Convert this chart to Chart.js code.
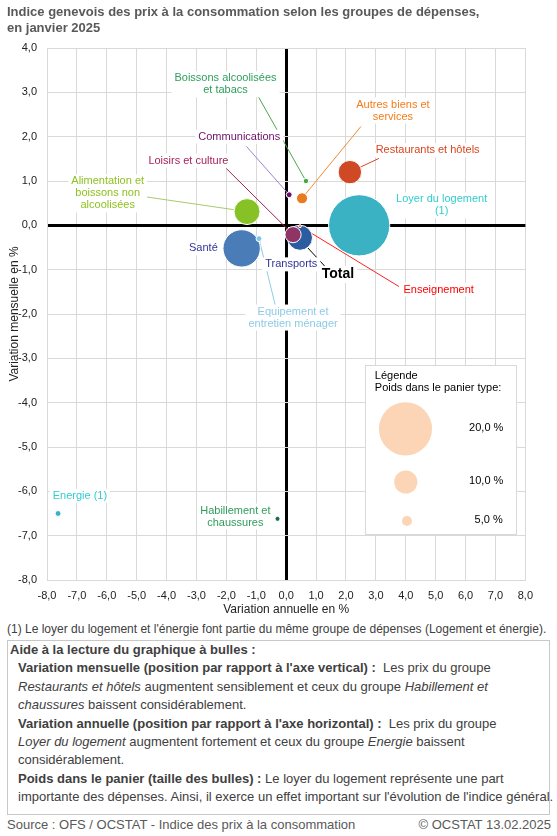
<!DOCTYPE html>
<html>
<head>
<meta charset="utf-8">
<script src="https://cdn.jsdelivr.net/npm/chart.js@4.4.1/dist/chart.umd.min.js"></script>
<style>
  body { margin: 0; width: 557px; height: 836px; position: relative; overflow: hidden; background: #fff;
         font-family: "Liberation Sans", Arial, sans-serif; }
  #title { position: absolute; left: 7px; top: 4px; font-size: 13px; font-weight: bold; color: #595959; line-height: 16px; }
  #wrap { position: absolute; left: 0; top: 0; width: 557px; height: 620px; }
  #note { position: absolute; left: 7px; top: 622px; font-size: 12px; color: #404040; white-space: nowrap; }
  #box { position: absolute; left: 7px; top: 640px; width: 543px; height: 175px; border: 1px solid #c8c8c8;
         box-sizing: border-box; font-size: 13px; color: #404040; line-height: 18.4px; white-space: nowrap; }
  #box .h { font-weight: bold; padding-left: 2px; }
  #box .p { padding-left: 10px; }
  #src { position: absolute; left: 7px; top: 817px; font-size: 13px; color: #595959; }
  #copy { position: absolute; right: 6px; top: 817px; font-size: 13px; color: #595959; }
</style>
</head>
<body>
<div id="wrap"><canvas id="myChart" width="557" height="620"></canvas></div>
<div id="title">Indice genevois des prix à la consommation selon les groupes de dépenses,<br>en janvier 2025</div>
<div id="note">(1) Le loyer du logement et l'énergie font partie du même groupe de dépenses (Logement et énergie).</div>
<div id="box">
  <div class="h">Aide à la lecture du graphique à bulles :</div>
  <div class="p"><b>Variation mensuelle (position par rapport à l'axe vertical) :</b>&nbsp; Les prix du groupe<br><i>Restaurants et hôtels</i> augmentent sensiblement et ceux du groupe <i>Habillement et<br>chaussures</i> baissent considérablement.</div>
  <div class="p"><b>Variation annuelle (position par rapport à l'axe horizontal) :</b>&nbsp; Les prix du groupe<br><i>Loyer du logement</i> augmentent fortement et ceux du groupe <i>Energie</i> baissent<br>considérablement.</div>
  <div class="p"><b>Poids dans le panier (taille des bulles) :</b> Le loyer du logement représente une part<br>importante des dépenses. Ainsi, il exerce un effet important sur l'évolution de l'indice général.</div>
</div>
<div id="src">Source : OFS / OCSTAT - Indice des prix à la consommation</div>
<div id="copy">© OCSTAT 13.02.2025</div>

<script>
// groupes de dépenses
const groups = ['Loyer du logement (1)', 'Santé', 'Alimentation et boissons non alcoolisées', 'Transports',
  'Restaurants et hôtels', 'Loisirs et culture', 'Autres biens et services', 'Equipement et entretien ménager',
  'Communications', 'Boissons alcoolisées et tabacs', 'Energie (1)', 'Habillement et chaussures', 'Enseignement'];
const annualChange  = [2.44, -1.49, -1.31, 0.46, 2.13, 0.23, 0.53, -0.91, 0.10, 0.66, -7.63, -0.29, 0.46];
const monthlyChange = [0.00, -0.52, 0.31, -0.28, 1.20, -0.21, 0.61, -0.30, 0.69, 1.00, -6.50, -6.62, -0.02];
const basketWeight  = [22.5, 14.9, 11.0, 10.7, 10.1, 7.4, 5.4, 3.2, 3.2, 3.0, 3.2, 2.8, 1.8];

const totalAnnual = [0.30];
const totalMonthly = [-0.20];

const legendWeights = [20, 10, 5];
const legendLabels = ['20,0 %', '10,0 %', '5,0 %'];

const xTickLabels = ['-8,0', '-7,0', '-6,0', '-5,0', '-4,0', '-3,0', '-2,0', '-1,0', '0,0', '1,0', '2,0', '3,0', '4,0', '5,0', '6,0', '7,0', '8,0'];
const yTickLabels = ['-8,0', '-7,0', '-6,0', '-5,0', '-4,0', '-3,0', '-2,0', '-1,0', '0,0', '1,0', '2,0', '3,0', '4,0'];

// couleurs
const bubbleColors = ['#3bb2c3', '#4a7cb8', '#86c226', '#2b5c9f', '#cf4a24', '#8f3565', '#e87b20', '#7fc6ec',
  '#6a106c', '#3eab3e', '#3bb2c3', '#1d6b4b', '#ff4a4a'];
const labelColors = ['#33cccc', '#333399', '#8dc21f', '#333399', '#d9461f', '#a3235a', '#f47c1a', '#8ecae6',
  '#6b0f6b', '#2e9e5b', '#33cccc', '#2e9e5b', '#ff0000'];
const leaderColors = [null, null, '#a9c96f', null, '#d9461f', '#a3234f', '#f08a30', '#8ecbe6',
  '#9b85c9', '#4aa84a', null, null, '#ff2020'];

// étiquettes (texte, position du texte, bout du trait)
const labelText = [['Loyer du logement', '(1)'], ['Santé'], ['Alimentation et', 'boissons non', 'alcoolisées'],
  ['Transports'], ['Restaurants et hôtels'], ['Loisirs et culture'], ['Autres biens et', 'services'],
  ['Equipement et', 'entretien ménager'], ['Communications'], ['Boissons alcoolisées', 'et tabacs'],
  ['Energie (1)'], ['Habillement et', 'chaussures'], ['Enseignement']];
const labelPos = [[5.2, 0.45], [-2.77, -0.52], [-5.97, 0.72], [0.17, -0.88], [4.73, 1.69], [-3.27, 1.46],
  [3.57, 2.59], [0.23, -2.08], [-1.57, 2.0], [-2.03, 3.18], [-6.9, -6.1], [-1.7, -6.57], [5.1, -1.45]];
const leaderEnd = [null, null, [-4.77, 0.65], null, [3.1, 1.51], [-2.0, 1.28], [2.5, 2.23], [-0.33, -1.9],
  [-1.33, 1.78], [-1.03, 3.02], null, null, [3.77, -1.38]];
const totalLabelPos = [1.73, -1.11];
const totalLeaderEnd = [1.37, -0.98];

// légende des bulles (placée dans le graphique)
const legendBox = [2.63, -3.16, 7.69, -6.98];
const legendAnnual = [3.99, 4.0, 4.04];
const legendMonthly = [-4.59, -5.79, -6.67];
const legendTextX = [6.69, 6.69, 6.77];

const FONT = '"Liberation Sans", Arial, sans-serif';

// taille de bulle selon le poids
const radiusFor = w => 0.73 * Math.pow(w, 1.2);

const mainData = groups.map((g, i) => ({ x: annualChange[i], y: monthlyChange[i], r: radiusFor(basketWeight[i]) }));
const legendData = legendWeights.map((w, i) => ({ x: legendAnnual[i], y: legendMonthly[i], r: radiusFor(w) }));
const totalData = totalAnnual.map((v, i) => ({ x: v, y: totalMonthly[i] }));

const drawLabel = (ctx, lines, px, py, color, font, lh) => {
  ctx.font = font;
  let w = 0;
  lines.forEach(l => { w = Math.max(w, ctx.measureText(l).width); });
  const h = lines.length * lh;
  ctx.fillStyle = '#fff';
  ctx.fillRect(px - w / 2 - 3, py - h / 2 - 1, w + 6, h + 2);
  ctx.fillStyle = color;
  ctx.textAlign = 'center';
  ctx.textBaseline = 'middle';
  lines.forEach((l, k) => ctx.fillText(l, px, py - h / 2 + lh / 2 + k * lh));
};

const annotate = {
  id: 'annotate',
  beforeDatasetsDraw(chart) {
    const { ctx, scales: { x, y } } = chart;
    ctx.save();

    // cadre de la légende
    const bx0 = x.getPixelForValue(legendBox[0]), by0 = y.getPixelForValue(legendBox[1]);
    const bx1 = x.getPixelForValue(legendBox[2]), by1 = y.getPixelForValue(legendBox[3]);
    ctx.fillStyle = '#fff';
    ctx.fillRect(bx0, by0, bx1 - bx0, by1 - by0);
    ctx.strokeStyle = '#d9d9d9';
    ctx.lineWidth = 1;
    ctx.strokeRect(Math.round(bx0) + 0.5, Math.round(by0) + 0.5, Math.round(bx1 - bx0), Math.round(by1 - by0));
    ctx.fillStyle = '#000';
    ctx.font = '11px ' + FONT;
    ctx.textAlign = 'left';
    ctx.textBaseline = 'middle';
    ctx.fillText('Légende', bx0 + 10, by0 + 11);
    ctx.fillText('Poids dans le panier type:', bx0 + 10, by0 + 23);
    legendLabels.forEach((t, i) => {
      ctx.textAlign = 'center';
      ctx.fillText(t, x.getPixelForValue(legendTextX[i]), y.getPixelForValue(legendMonthly[i]) - 1);
    });

    // traits de rappel
    ctx.lineWidth = 1;
    groups.forEach((g, i) => {
      if (!leaderEnd[i]) return;
      ctx.strokeStyle = leaderColors[i];
      ctx.beginPath();
      ctx.moveTo(x.getPixelForValue(annualChange[i]), y.getPixelForValue(monthlyChange[i]));
      ctx.lineTo(x.getPixelForValue(leaderEnd[i][0]), y.getPixelForValue(leaderEnd[i][1]));
      ctx.stroke();
    });
    ctx.strokeStyle = '#000';
    ctx.beginPath();
    ctx.moveTo(x.getPixelForValue(totalAnnual[0]), y.getPixelForValue(totalMonthly[0]));
    ctx.lineTo(x.getPixelForValue(totalLeaderEnd[0]), y.getPixelForValue(totalLeaderEnd[1]));
    ctx.stroke();

    // étiquettes
    groups.forEach((g, i) => {
      drawLabel(ctx, labelText[i], x.getPixelForValue(labelPos[i][0]), y.getPixelForValue(labelPos[i][1]),
        labelColors[i], '11px ' + FONT, 12);
    });
    drawLabel(ctx, ['Total'], x.getPixelForValue(totalLabelPos[0]), y.getPixelForValue(totalLabelPos[1]),
      '#000', 'bold 14px ' + FONT, 15);

    ctx.restore();
  }
};

const ctx = document.getElementById('myChart').getContext('2d');
const myChart = new Chart(ctx, {
  type: 'bubble',
  data: {
    datasets: [
      {
        label: 'Groupes',
        data: mainData,
        backgroundColor: bubbleColors,
        borderColor: '#fff',
        borderWidth: 1,
      },
      {
        label: 'Légende',
        data: legendData,
        backgroundColor: '#fbd5b5',
        borderWidth: 0,
      },
      {
        type: 'scatter',
        label: 'Total',
        data: totalData,
        pointStyle: 'rect',
        pointRadius: 7,
        backgroundColor: '#000',
        borderColor: '#fff',
        borderWidth: 1,
      },
    ],
  },
  options: {
    responsive: false,
    animation: false,
    events: [],
    layout: { padding: { top: 48, right: 30, left: 0, bottom: 0 } },
    plugins: { legend: { display: false }, tooltip: { enabled: false } },
    scales: {
      x: {
        type: 'linear',
        min: -8, max: 8,
        afterFit: s => { s.height = 40; s.paddingLeft = 0; s.paddingRight = 0; },
        ticks: {
          stepSize: 1, padding: 9, color: '#222',
          font: { family: FONT, size: 11 },
          callback: (v) => xTickLabels[Math.round(v) + 8],
        },
        grid: {
          drawTicks: false,
          color: c => (c.tick && c.tick.value === 0 ? '#000' : '#d9d9d9'),
          lineWidth: c => (c.tick && c.tick.value === 0 ? 3 : 1),
        },
        border: { display: true, color: '#d9d9d9' },
        title: { display: true, text: 'Variation annuelle en %', color: '#222',
          font: { family: FONT, size: 12 }, padding: { top: 0, bottom: 3 } },
      },
      y: {
        type: 'linear',
        min: -8, max: 4,
        afterFit: s => { s.width = 47; s.paddingTop = 0; s.paddingBottom = 0; },
        ticks: {
          stepSize: 1, padding: 10, color: '#222',
          font: { family: FONT, size: 11 },
          callback: (v) => yTickLabels[Math.round(v) + 8],
        },
        grid: {
          drawTicks: false,
          color: c => (c.tick && c.tick.value === 0 ? '#000' : '#d9d9d9'),
          lineWidth: c => (c.tick && c.tick.value === 0 ? 3 : 1),
        },
        border: { display: true, color: '#d9d9d9' },
        title: { display: true, text: 'Variation mensuelle en %', color: '#222',
          font: { family: FONT, size: 12 }, padding: { top: 7, bottom: 0 } },
      },
    },
  },
  plugins: [annotate],
});
</script>
</body>
</html>
